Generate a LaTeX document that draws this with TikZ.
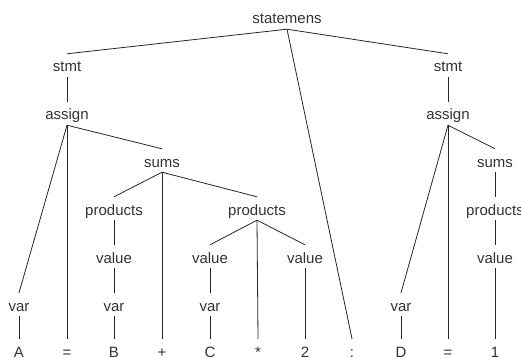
\documentclass[tikz,border=0pt]{standalone}
\usepackage{fontspec}
\setmainfont{Liberation Sans}
\usetikzlibrary{positioning}

\begin{document}
\begin{tikzpicture}[x=1pt, y=-1pt,
	lbl/.style={anchor=base, inner xsep=0pt, inner ysep=5pt,
		text height=13pt, text depth=0pt, text=black!80,
		font=\fontsize{15}{18}\selectfont},
	edge/.style={line width=0.8pt, color=black!85}]
	\useasboundingbox (0,0) rectangle (521,358);
	% root and statements
	\node[lbl] (top) at (287,24) {statemens};
	\node[lbl] (stmtA) at (67,72) {stmt};
	\node[lbl] (stmtB) at (448,72) {stmt};
	\node[lbl] (asgA) at (67,120) {assign};
	\node[lbl] (asgB) at (448,120) {assign};
	\node[lbl] (sumsA) at (162,167) {sums};
	\node[lbl] (sumsB) at (495,167) {sums};
	\node[lbl] (prodA) at (114,215) {products};
	\node[lbl] (prodB) at (257,215) {products};
	\node[lbl] (prodC) at (495,215) {products};
	\node[lbl] (valA) at (114,263) {value};
	\node[lbl] (valB) at (210,263) {value};
	\node[lbl] (valC) at (305,263) {value};
	\node[lbl] (valD) at (495,263) {value};
	\node[lbl] (varA) at (19,311) {var};
	\node[lbl] (varB) at (114,311) {var};
	\node[lbl] (varC) at (210,311) {var};
	\node[lbl] (varD) at (401,311) {var};
	% leaves
	\node[lbl] (lA) at (19,357) {A};
	\node[lbl] (lEqA) at (67,357) {=};
	\node[lbl] (lB) at (114,357) {B};
	\node[lbl] (lPlus) at (162,357) {+};
	\node[lbl] (lC) at (210,357) {C};
	\node[lbl] (lStar) at (258,357) {*};
	\node[lbl] (lTwo) at (305,357) {2};
	\node[lbl] (lSemi) at (352,357) {:};
	\node[lbl] (lD) at (401,357) {D};
	\node[lbl] (lEqB) at (448,357) {=};
	\node[lbl] (lOne) at (495,357) {1};
	% edges
	\foreach \a/\b in {top/stmtA, top/stmtB, top/lSemi,
		stmtA/asgA, asgA/varA, asgA/lEqA, asgA/sumsA,
		sumsA/prodA, sumsA/lPlus, sumsA/prodB,
		prodA/valA, valA/varB, varB/lB,
		prodB/valB, prodB/lStar, prodB/valC,
		valB/varC, varC/lC, valC/lTwo, varA/lA,
		stmtB/asgB, asgB/varD, asgB/lEqB, asgB/sumsB,
		sumsB/prodC, prodC/valD, valD/lOne, varD/lD}
		\draw[edge] (\a.south) -- (\b.north);
\end{tikzpicture}
\end{document}
